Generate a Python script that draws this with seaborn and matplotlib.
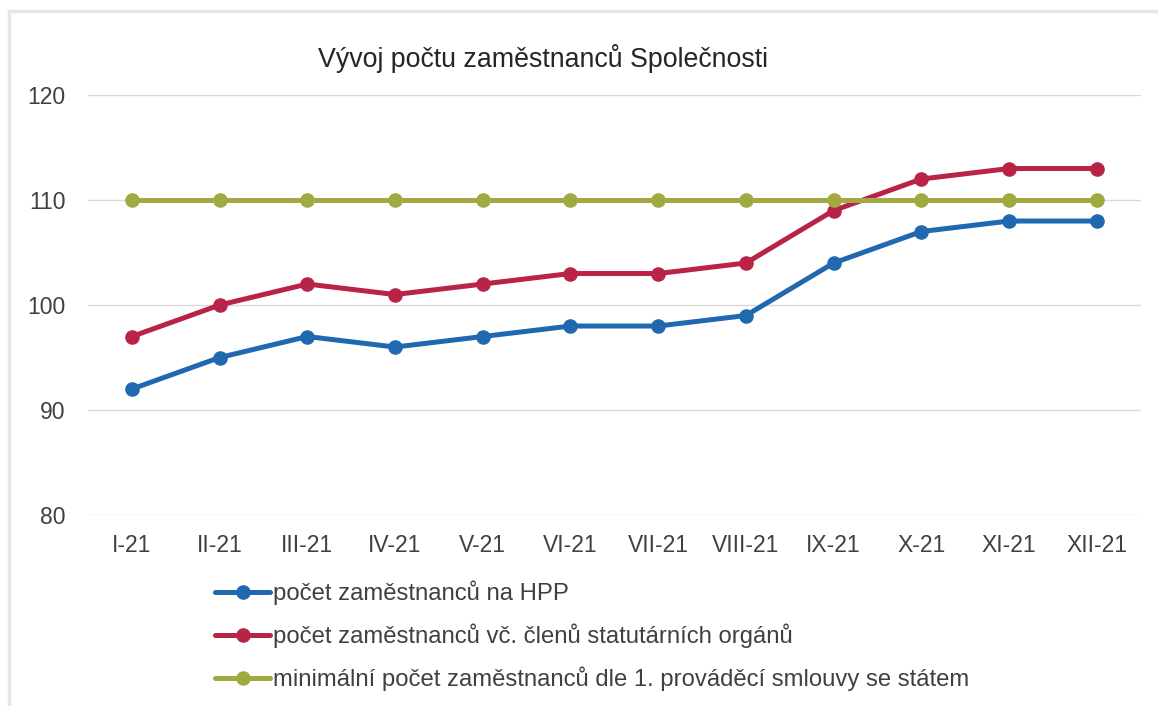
import matplotlib
matplotlib.use("Agg")
import matplotlib.pyplot as plt
import pandas as pd
import seaborn as sns

months = ["I-21", "II-21", "III-21", "IV-21", "V-21", "VI-21",
          "VII-21", "VIII-21", "IX-21", "X-21", "XI-21", "XII-21"]
hpp = [92, 95, 97, 96, 97, 98, 98, 99, 104, 107, 108, 108]
with_board = [97, 100, 102, 101, 102, 103, 103, 104, 109, 112, 113, 113]
minimum = [110] * 12

series_names = [
    "počet zaměstnanců na HPP",
    "počet zaměstnanců vč. členů statutárních orgánů",
    "minimální počet zaměstnanců dle 1. prováděcí smlouvy se státem",
]
colors = ["#2068B0", "#B82346", "#A2A940"]
title = "Vývoj počtu zaměstnanců Společnosti"

sns.set_theme(style="white")
plt.rcParams["font.family"] = ["Liberation Sans", "DejaVu Sans"]
text_col = "#404040"

rows = []
for name, vals in zip(series_names, [hpp, with_board, minimum]):
    for i, (m, v) in enumerate(zip(months, vals)):
        rows.append({"x": i, "month": m, "series": name, "value": v})
df = pd.DataFrame(rows)

fig = plt.figure(figsize=(11.58, 7.06), dpi=100)
ax = fig.add_axes([0.076, 0.2705, 0.909, 0.5949])

sns.lineplot(
    data=df, x="x", y="value", hue="series", hue_order=series_names,
    palette=colors, marker="o", markersize=10.5, markeredgewidth=0,
    linewidth=3.6, ax=ax, legend=True,
)

ax.set_xlim(-0.5, 11.5)
ax.set_ylim(80, 120)
ax.set_yticks([80, 90, 100, 110, 120])
ax.set_xticks(range(len(months)))
ax.set_xticklabels(months)
ax.set_xlabel("")
ax.set_ylabel("")
ax.tick_params(axis="both", length=0, labelsize=16.5, colors=text_col)
ax.tick_params(axis="x", pad=14)
ax.tick_params(axis="y", pad=16)
ax.grid(axis="y", color="#D9D9D9", linewidth=1)
ax.set_axisbelow(True)
for s in ax.spines.values():
    s.set_visible(False)

handles, labels = ax.get_legend_handles_labels()
ax.get_legend().remove()
fig.legend(handles, labels, loc="upper left", bbox_to_anchor=(0.186, 0.178),
           frameon=False, fontsize=17.2, labelcolor=text_col,
           handlelength=2.3, handletextpad=0.1, labelspacing=0.78,
           borderaxespad=0, borderpad=0)

fig.text(0.469, 0.917, title, ha="center", va="center", fontsize=19.3,
         color="#262626")

# faint scan frame on the left and top edges
fig.add_artist(plt.Line2D([9 / 1158, 9 / 1158], [0, 1 - 11 / 706],
                          color="#E6E6E6", linewidth=2.5, transform=fig.transFigure))
fig.add_artist(plt.Line2D([9 / 1158, 1], [1 - 11 / 706, 1 - 11 / 706],
                          color="#E6E6E6", linewidth=2.5, transform=fig.transFigure))

fig.savefig("out.png", dpi=100)
